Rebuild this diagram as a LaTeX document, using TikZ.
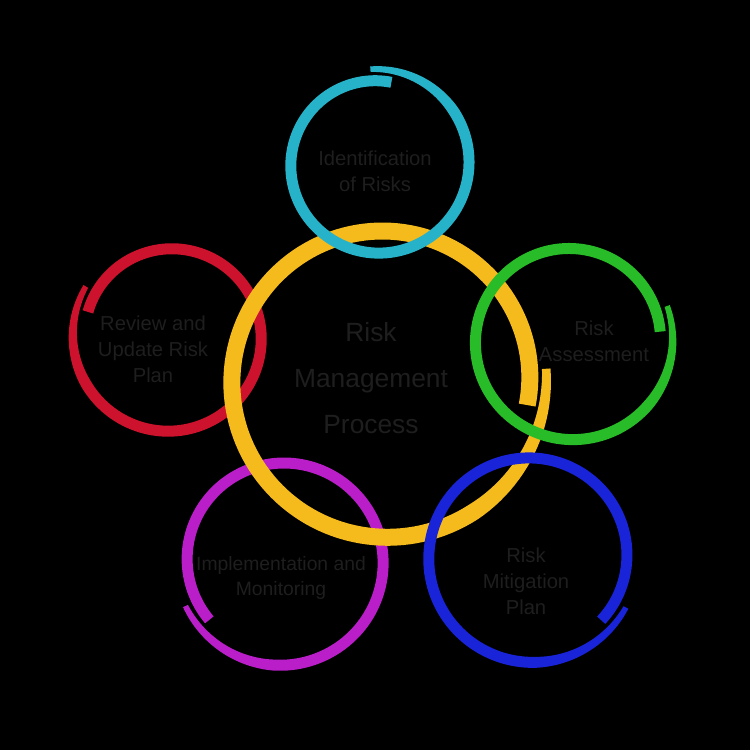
\documentclass[tikz,border=0pt]{standalone}
\usepackage{fontspec}
\setmainfont{Liberation Sans}

\definecolor{anelloCiano}{RGB}{38,178,200}
\definecolor{anelloRosso}{RGB}{205,18,45}
\definecolor{anelloVerde}{RGB}{40,188,40}
\definecolor{anelloBlu}{RGB}{25,35,215}
\definecolor{anelloViola}{RGB}{185,30,200}
\definecolor{anelloGiallo}{RGB}{245,186,28}
\definecolor{testoScuro}{RGB}{30,30,30}

% anello a spirale: cx, cy, raggio, angolo iniziale, verso, colore, spessore
\newcommand{\anello}[7]{%
  \fill[#6] plot[variable=\t, domain=0:374, samples=150]
      ({#1+(rr(\t,#3)+ww(\t,#7)/2)*cos(#4+(#5)*\t)}, {#2+(rr(\t,#3)+ww(\t,#7)/2)*sin(#4+(#5)*\t)})
    -- plot[variable=\t, domain=374:0, samples=150]
      ({#1+(rr(\t,#3)-ww(\t,#7)/2)*cos(#4+(#5)*\t)}, {#2+(rr(\t,#3)-ww(\t,#7)/2)*sin(#4+(#5)*\t)})
    -- cycle;}

\begin{document}
\begin{tikzpicture}[x=0.02cm, y=-0.02cm,
    declare function={dr(\r)=5+0.08*\r; rr(\t,\r)=\r+dr(\r)/2-dr(\r)*\t/374;
      ww(\t,\w)=\w*(0.5+0.5*min(1,\t/60));},
    testo/.style={align=center, inner sep=0pt, text=testoScuro,
      font=\fontsize{11.5}{14.7}\selectfont},
    titolo/.style={testo, font=\fontsize{15}{26}\selectfont}]
  \fill[black] (0,0) rectangle (750,750);
  \useasboundingbox (0,0) rectangle (750,750);

  % Anelli
  \anello{170}{337}{92}{211}{-1}{anelloRosso}{11}
  \anello{282}{561}{100}{155}{-1}{anelloViola}{11}
  \anello{385}{380}{153}{-4}{1}{anelloGiallo}{17}
  \anello{377}{164}{89}{-94}{1}{anelloCiano}{11}
  \anello{571}{341}{96}{-20}{1}{anelloVerde}{11}
  \anello{531}{557}{101}{28}{1}{anelloBlu}{11}

  % Testi
  \node[titolo] (processo) at (371,378) {Risk\\Management\\Process};
  \node[testo] (identificazione) at (375,171) {Identification\\of Risks};
  \node[testo] (valutazione) at (594,341) {Risk\\Assessment};
  \node[testo] (mitigazione) at (526,581) {Risk\\Mitigation\\Plan};
  \node[testo, font=\fontsize{11}{14.7}\selectfont] (monitoraggio) at (281,578) {Implementation and\\Monitoring};
  \node[testo] (revisione) at (153,349) {Review and\\Update Risk\\Plan};
\end{tikzpicture}
\end{document}
